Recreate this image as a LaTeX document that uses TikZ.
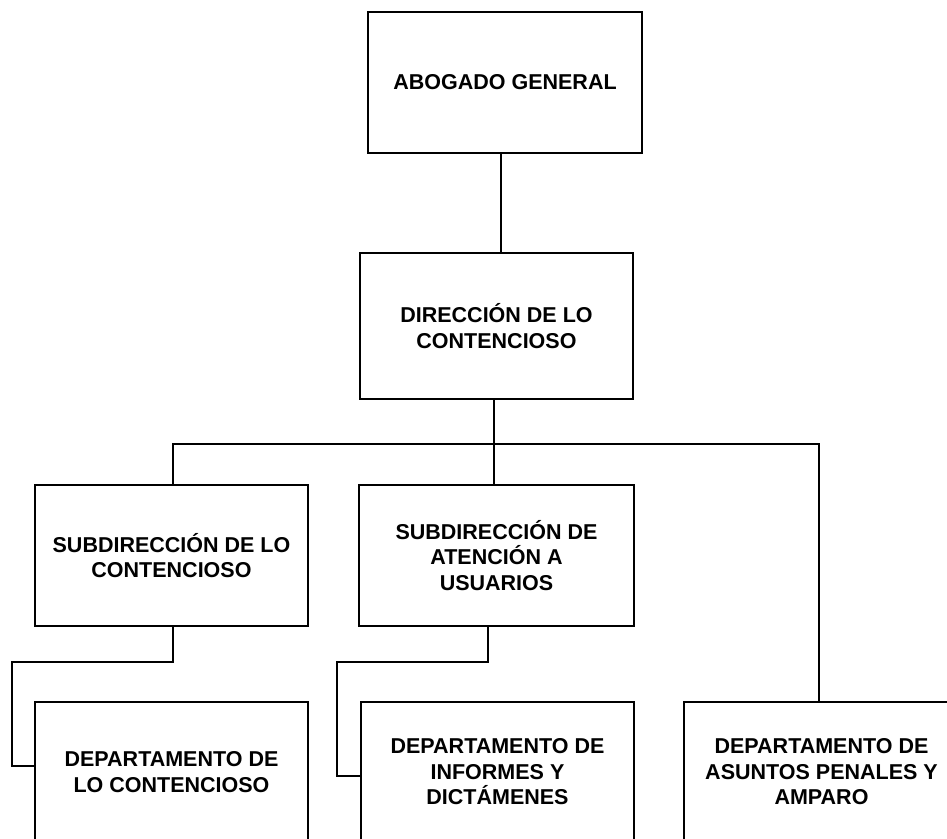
\documentclass[tikz,border=0pt]{standalone}
\usepackage{fontspec}
\setmainfont{Liberation Sans}
\begin{document}
\begin{tikzpicture}[x=1pt,y=-1pt,
  box/.style={draw=black, line width=2.4pt, rectangle, inner sep=0pt, align=center,
    font=\fontsize{21.5}{25.5}\selectfont\bfseries},
  conn/.style={draw=black, line width=2.4pt}]
\useasboundingbox (0,0) rectangle (947,838);
\clip (0,0) rectangle (947,838);
\node[box, minimum width=274pt, minimum height=141pt] (ag) at (505,82.5) {ABOGADO GENERAL};
\node[box, minimum width=273pt, minimum height=146pt] (dir) at (496.5,326) {DIRECCIÓN DE LO\\CONTENCIOSO};
\node[box, minimum width=273pt, minimum height=141pt] (s1) at (171.5,555.5) {SUBDIRECCIÓN DE LO\\CONTENCIOSO};
\node[box, minimum width=275pt, minimum height=141pt] (s2) at (496.5,555.5) {SUBDIRECCIÓN DE\\ATENCIÓN A\\USUARIOS};
\node[box, minimum width=273pt, minimum height=140pt] (d1) at (171.5,772) {DEPARTAMENTO DE\\LO CONTENCIOSO};
\node[box, minimum width=273pt, minimum height=140pt] (d2) at (497.5,772) {DEPARTAMENTO DE\\INFORMES Y\\DICTÁMENES};
\node[box, minimum width=275pt, minimum height=140pt] (d3) at (821.5,772) {DEPARTAMENTO DE\\ASUNTOS PENALES Y\\AMPARO};
\coordinate (busR) at (819,444);
\coordinate (e1) at (12,662);
\coordinate (e2) at (337,662);
\draw[conn] ([xshift=-4pt]ag.south) -- ([xshift=-4pt]ag.south |- dir.north);
\draw[conn] ([xshift=-2.5pt]dir.south) -- ([xshift=-2.5pt]dir.south |- s2.north);
\draw[conn] ([xshift=1.5pt]s1.north) |- (busR) -- (busR |- d3.north);
\draw[conn] ([xshift=1.5pt]s1.south) |- (e1) |- ([yshift=6pt]d1.west);
\draw[conn] ([xshift=-8.5pt]s2.south) |- (e2) |- ([yshift=-4pt]d2.west);
\end{tikzpicture}
\end{document}
